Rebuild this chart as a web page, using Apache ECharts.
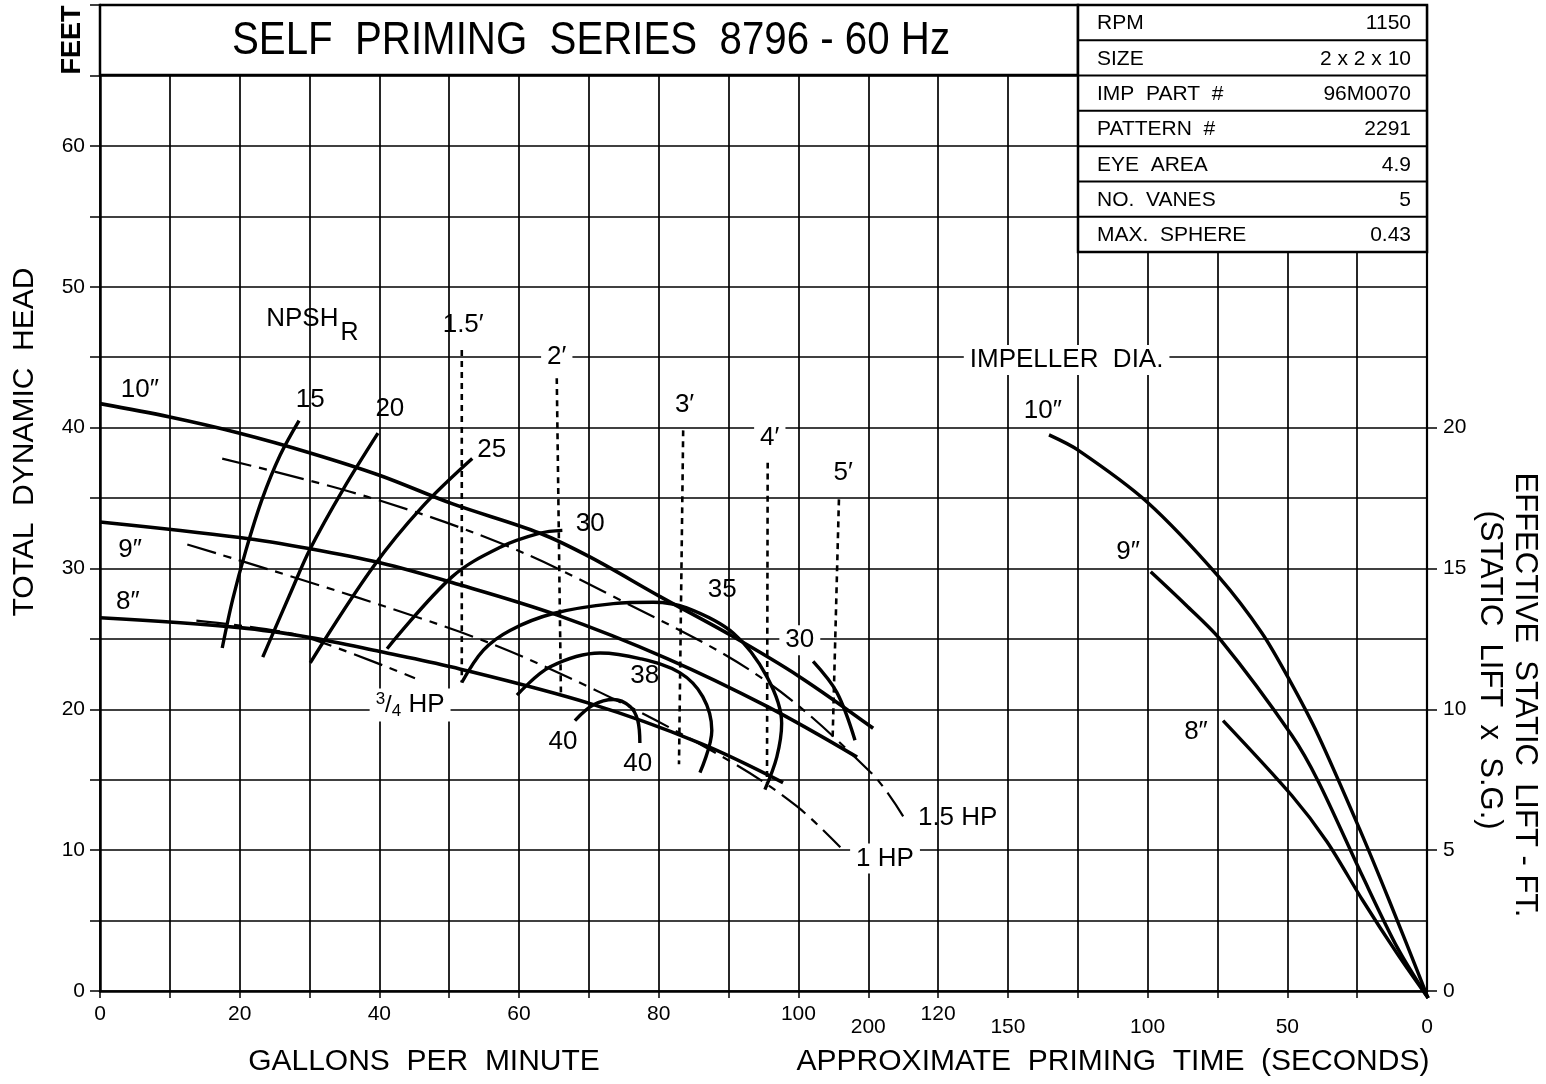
<!DOCTYPE html>
<html><head><meta charset="utf-8">
<script src="https://cdn.jsdelivr.net/npm/echarts@6/dist/echarts.min.js"></script>
<style>html,body{margin:0;padding:0;background:#fff}#c{width:1546px;height:1084px}</style>
</head><body><div id="c"></div>
<script>
// ---------- tick labels ----------
const gpmTicks = [0, 20, 40, 60, 80, 100, 120];
const headTicks = [0, 10, 20, 30, 40, 50, 60];
const primeTicks = [0, 50, 100, 150, 200];
const liftTicks = [0, 5, 10, 15, 20];

// ---------- head-capacity curves [gpm, ft] ----------
const imp10 = [[0,41.7],[10,40.75],[20,39.6],[30.1,38.2],[40.1,36.6],[50.4,34.6],[63,32.5],[70.2,30.8],[80.2,28.0],[90.5,25.2],[100.2,22.3],[110.7,18.65]];
const imp9  = [[0,33.3],[20,32.2],[30.1,31.4],[40.1,30.4],[50.4,29.0],[65.4,26.7],[81.2,23.6],[95.5,20.2],[108.4,16.6]];
const imp8  = [[0,26.5],[20,25.8],[30.1,25.1],[40.1,24.1],[50.4,23.0],[70.2,20.4],[85.9,17.6],[97.8,14.8]];

// ---------- horsepower lines ----------
const hp15 = [[17.5,37.8],[38.2,35.1],[57.3,31.8],[73.5,28.0],[94.5,22.3],[110.4,15.5],[115.0,12.4]];
const hp10 = [[12.5,31.7],[51.5,25.5],[71.6,21.2],[90.6,16.2],[99.8,13.1],[106.0,10.2]];
const hp075 = [[13.8,26.3],[27.2,25.4],[34.8,24.2],[45.1,22.2]];

// ---------- efficiency curves ----------
const eff15 = [[17.5,24.35],[19.0,27.8],[20.9,31.3],[23.2,34.9],[25.8,38.05],[28.5,40.5]];
const eff20 = [[23.3,23.7],[27.4,28.4],[30.1,31.4],[34.8,35.6],[39.8,39.6]];
const eff25 = [[30.1,23.3],[39.1,30.1],[46.2,34.4],[53.3,37.8]];
const eff30a = [[41.1,24.3],[50.4,29.4],[57.3,31.5],[63.0,32.5],[66.2,32.7]];
const eff35 = [[51.8,21.9],[54.9,24.2],[58.7,25.6],[64.9,26.8],[73.5,27.5],[79.2,27.6],[84.0,27.2],[90.7,25.4],[95.5,22.3],[97.6,19.0],[96.9,16.6],[95.2,14.3]];
const eff38 = [[59.7,21.0],[64.4,23.0],[71.6,24.0],[77.3,23.6],[83.0,22.6],[86.3,20.9],[87.6,18.5],[85.9,15.5]];
const eff40 = [[68.0,19.2],[70.6,20.3],[73.5,20.7],[75.9,20.2],[77.0,19.2],[77.3,17.6]];
const eff30b = [[102.1,23.4],[105.5,21.2],[108.1,17.8]];

// ---------- NPSHr lines ----------
const npsh15 = [[51.8,45.5],[51.8,21.9]];
const npsh2 = [[65.4,43.5],[66.0,20.9]];
const npsh3 = [[83.5,39.8],[82.9,16.1]];
const npsh4 = [[95.6,37.5],[95.5,14.8]];
const npsh5 = [[105.8,34.9],[104.9,18.0]];

// ---------- priming time curves [seconds, lift ft] ----------
const prime10 = [[135.3,19.74],[124.9,19.2],[100.2,17.36],[74.5,14.7],[59.1,12.71],[49.0,11.0],[39.0,9.09],[24.0,5.72],[13.6,3.23],[-0.4,-0.25]];
const prime9  = [[98.9,14.88],[86.3,13.7],[73.6,12.43],[48.4,9.08],[38.9,7.44],[23.1,4.08],[10.5,1.52],[-0.4,-0.25]];
const prime8  = [[73,9.6],[48.4,6.94],[35.8,5.3],[23.1,3.23],[10.5,1.3],[-0.4,-0.25]];

// ---------- spec table ----------
const specNames = ['RPM', 'SIZE', 'IMP  PART  #', 'PATTERN  #', 'EYE  AREA', 'NO.  VANES', 'MAX.  SPHERE'];
const specValues = ['1150', '2 x 2 x 10', '96M0070', '2291', '4.9', '5', '0.43'];

// ---------- annotation texts ----------
const plotNotes = [
  ['10″', 5.7, 42.7], ['9″', 4.3, 31.3], ['8″', 4.0, 27.6],
  ['15', 30.1, 42.0], ['20', 41.5, 41.3], ['25', 56.1, 38.4], ['30', 70.2, 33.2],
  ['35', 89.1, 28.5], ['38', 78.0, 22.4], ['40', 66.3, 17.7], ['40', 77.0, 16.1],
  ['30', 100.2, 24.9, true],
  ['1.5′', 52.0, 47.3], ['2′', 65.4, 45.0, true], ['3′', 83.7, 41.6], ['4′', 95.9, 39.3, true], ['5′', 106.4, 36.8],
  ['{a|NPSH}{b|R}', 30.4, 47.7],
  ['{s|3}{f|/}{d|4}{a| HP}', 44.4, 20.3, true],
  ['1 HP', 112.4, 9.4, true], ['1.5 HP', 122.8, 12.3],
  ['IMPELLER  DIA.', 138.4, 44.8, true]
];
const primeNotes = [['10″', 137.5, 20.6], ['9″', 107, 15.6], ['8″', 82.7, 9.2]];

const FONT = '"Liberation Sans", Arial, Helvetica, sans-serif';
const chart = echarts.init(document.getElementById('c'), null, {renderer: 'canvas'});

function curve(data, width, type, extra) {
  return Object.assign({
    type: 'line', data: data, smooth: 0.35, symbol: 'none', showSymbol: false,
    silent: true, animation: false,
    itemStyle: {color: '#000'},
    lineStyle: {color: '#000', width: width, type: type || 'solid', cap: 'butt'},
    z: 3
  }, extra || {});
}

const rich = {
  a: {fontSize: 26, fontFamily: FONT, fill: '#000'},
  b: {fontSize: 25, fontFamily: FONT, fill: '#000', padding: [28, 0, 0, 2]},
  s: {fontSize: 17, fontFamily: FONT, fill: '#000', padding: [0, 0, 12, 0]},
  f: {fontSize: 24, fontFamily: FONT, fill: '#000'},
  d: {fontSize: 17, fontFamily: FONT, fill: '#000', padding: [12, 0, 0, 0]}
};

const graphics = [];
// title box
graphics.push({type: 'rect', z: 100, shape: {x: 100, y: 5, width: 978, height: 70}, style: {fill: '#fff', stroke: '#000', lineWidth: 2.5}});
graphics.push({type: 'text', z: 101, x: 591, y: 41, scaleX: 0.875, style: {text: 'SELF  PRIMING  SERIES  8796 - 60 Hz', x: 0, y: 0, font: '46px ' + FONT, fill: '#000', align: 'center', verticalAlign: 'middle', textAlign: 'center', textVerticalAlign: 'middle'}});
// spec table
const rowH = 247 / specNames.length;
graphics.push({type: 'rect', z: 100, shape: {x: 1078, y: 5, width: 349, height: 247}, style: {fill: '#fff', stroke: '#000', lineWidth: 2.5}});
specNames.forEach((nm, i) => {
  const cy = 5 + rowH * (i + 0.5) + 1;
  if (i > 0) graphics.push({type: 'line', z: 101, shape: {x1: 1078, y1: 5 + rowH * i, x2: 1427, y2: 5 + rowH * i}, style: {stroke: '#000', lineWidth: 2}});
  graphics.push({type: 'text', z: 102, style: {text: nm, x: 1097, y: cy, font: '21px ' + FONT, fill: '#000', align: 'left', verticalAlign: 'middle', textAlign: 'left', textVerticalAlign: 'middle'}});
  graphics.push({type: 'text', z: 102, style: {text: specValues[i], x: 1411, y: cy, font: '21px ' + FONT, fill: '#000', align: 'right', verticalAlign: 'middle', textAlign: 'right', textVerticalAlign: 'middle'}});
});
// axis titles
function txt(t, x, y, size, rot, bold) {
  graphics.push({type: 'text', z: 100, x: x, y: y, rotation: rot || 0, style: {text: t, x: 0, y: 0, font: (bold ? 'bold ' : '') + size + 'px ' + FONT, fill: '#000', align: 'center', verticalAlign: 'middle', textAlign: 'center', textVerticalAlign: 'middle'}});
}
txt('GALLONS  PER  MINUTE', 424, 1062, 30);
txt('APPROXIMATE  PRIMING  TIME  (SECONDS)', 1113, 1062, 30);
txt('TOTAL  DYNAMIC  HEAD', 25, 442, 30, Math.PI / 2);
txt('FEET', 73, 40, 27, Math.PI / 2, true);
txt('EFFECTIVE  STATIC  LIFT - FT.', 1525, 695, 31, -Math.PI / 2);
txt('(STATIC  LIFT  x  S.G.)', 1490, 670, 31, -Math.PI / 2);

const option = {
  backgroundColor: '#fff',
  animation: false,
  grid: {left: 100, right: 119, top: 5, bottom: 93, containLabel: false},
  xAxis: [
    {type: 'value', min: 0, max: 190, interval: 10, position: 'bottom',
     axisLine: {lineStyle: {color: '#000', width: 2.5}},
     axisTick: {show: true, length: 7, lineStyle: {color: '#000', width: 1.5}},
     axisLabel: {customValues: gpmTicks, formatter: v => (gpmTicks.indexOf(v) >= 0 ? String(v) : ''), fontSize: 21, fontFamily: FONT, color: '#000', margin: 13},
     splitLine: {show: true, lineStyle: {color: '#000', width: 1.7}}},
    {type: 'value', min: 0, max: 475, interval: 25, inverse: true, position: 'bottom',
     axisLine: {show: false}, axisTick: {show: false}, splitLine: {show: false},
     axisLabel: {customValues: primeTicks, formatter: v => (primeTicks.indexOf(v) >= 0 ? String(v) : ''), fontSize: 21, fontFamily: FONT, color: '#000', margin: 26}}
  ],
  yAxis: [
    {type: 'value', min: 0, max: 70, interval: 5, position: 'left',
     axisLine: {lineStyle: {color: '#000', width: 2.5}},
     axisTick: {show: true, length: 10, lineStyle: {color: '#000', width: 1.5}},
     axisLabel: {customValues: headTicks, formatter: v => (headTicks.indexOf(v) >= 0 ? String(v) : ''), fontSize: 21, fontFamily: FONT, color: '#000', margin: 15},
     splitLine: {show: true, lineStyle: {color: '#000', width: 1.7}}},
    {type: 'value', min: 0, max: 35, interval: 5, position: 'right',
     axisLine: {show: true, lineStyle: {color: '#000', width: 2.2}},
     axisTick: {show: true, customValues: liftTicks, length: 10, lineStyle: {color: '#000', width: 1.5}},
     axisLabel: {customValues: liftTicks, formatter: v => (liftTicks.indexOf(v) >= 0 ? String(v) : ''), fontSize: 21, fontFamily: FONT, color: '#000', margin: 16},
     splitLine: {show: false}}
  ],
  graphic: {elements: graphics},
  series: [
    curve(imp10, 3.6), curve(imp9, 3.6), curve(imp8, 3.6),
    curve(hp15, 2.2, [30, 8, 8, 8]), curve(hp10, 2.2, [30, 8, 8, 8]), curve(hp075, 2.2, [30, 8, 8, 8]),
    curve(eff15, 3.4), curve(eff20, 3.4), curve(eff25, 3.4), curve(eff30a, 3.4), curve(eff35, 3.4),
    curve(eff38, 3.4), curve(eff40, 3.4), curve(eff30b, 3.4),
    curve(npsh15, 2.6, [6, 5]), curve(npsh2, 2.6, [6, 5]), curve(npsh3, 2.6, [6, 5]), curve(npsh4, 2.6, [6, 5]), curve(npsh5, 2.6, [6, 5]),
    curve(prime10, 3.4, 'solid', {xAxisIndex: 1, yAxisIndex: 1, clip: false, smooth: 0.3}),
    curve(prime9, 3.4, 'solid', {xAxisIndex: 1, yAxisIndex: 1, clip: false, smooth: 0.3}),
    curve(prime8, 3.4, 'solid', {xAxisIndex: 1, yAxisIndex: 1, clip: false, smooth: 0.3})
  ]
};
chart.setOption(option);

// annotation texts placed through the chart's own axes
function noteEl(n, px, py) {
  return {type: 'text', z: 90, x: px, y: py, style: {
    text: n[0], x: 0, y: 0, font: '26px ' + FONT, fill: '#000',
    align: 'center', verticalAlign: 'middle', textAlign: 'center', textVerticalAlign: 'middle',
    backgroundColor: n[3] ? '#fff' : null, padding: n[3] ? [2, 6] : 0, rich: rich}};
}
const noteEls = [];
plotNotes.forEach(n => {
  const p = chart.convertToPixel({xAxisIndex: 0, yAxisIndex: 0}, [n[1], n[2]]);
  noteEls.push(noteEl(n, p[0], p[1]));
});
primeNotes.forEach(n => {
  const px = chart.convertToPixel({xAxisIndex: 1}, n[1]);
  const py = chart.convertToPixel({yAxisIndex: 1}, n[2]);
  noteEls.push(noteEl(n, px, py));
});
chart.setOption({graphic: {elements: graphics.concat(noteEls)}});
</script>
</body></html>
